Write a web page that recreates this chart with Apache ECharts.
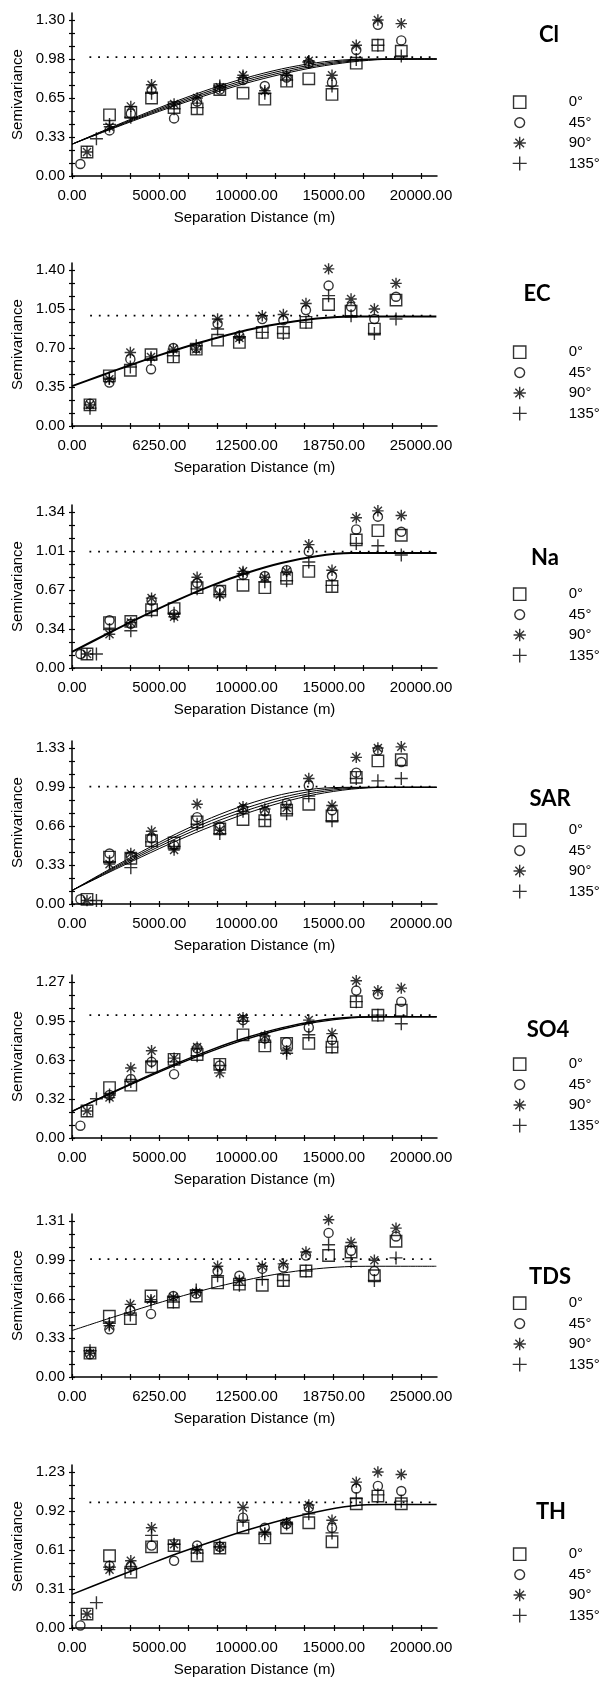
<!DOCTYPE html>
<html>
<head>
<meta charset="utf-8">
<script src="https://cdn.jsdelivr.net/npm/echarts@6/dist/echarts.min.js"></script>
<style>
  html, body { margin: 0; padding: 0; background: #fff; }
  #chart { width: 604px; height: 1686px; }
</style>
</head>
<body>
<div id="chart"></div>
<script>
// panels and directions
const panelNames = ['Cl', 'EC', 'Na', 'SAR', 'SO4', 'TDS', 'TH'];
const directions = ['0°', '45°', '90°', '135°'];

// axis extents (last labelled tick) and tick labels
const xTop = [20000, 25000, 20000, 20000, 20000, 25000, 20000];
const yTop = [1.30, 1.40, 1.34, 1.33, 1.27, 1.31, 1.23];
const xLabels20 = ['0.00', '5000.00', '10000.00', '15000.00', '20000.00'];
const xLabels25 = ['0.00', '6250.00', '12500.00', '18750.00', '25000.00'];
const yTickLabels = [
  ['0.00', '0.33', '0.65', '0.98', '1.30'],
  ['0.00', '0.35', '0.70', '1.05', '1.40'],
  ['0.00', '0.34', '0.67', '1.01', '1.34'],
  ['0.00', '0.33', '0.66', '0.99', '1.33'],
  ['0.00', '0.32', '0.63', '0.95', '1.27'],
  ['0.00', '0.33', '0.66', '0.99', '1.31'],
  ['0.00', '0.31', '0.61', '0.92', '1.23']
];

// lag distances (m); first lag differs a little per direction
const lagDist20 = [860, 2150, 3370, 4560, 5850, 7170, 8470, 9800, 11050, 12300, 13570, 14900, 16290, 17530, 18870];
const firstLag20 = [860, 480, 860, 1400];
const lagDist25 = [1290, 2675, 4180, 5660, 7260, 8900, 10430, 11990, 13630, 15140, 16760, 18380, 19990, 21660, 23210];
const firstLag25 = [1290, 1290, 1290, 1290];

// experimental semivariances: 0°, 45°, 90°, 135°
const cl0   = [0.20, 0.51, 0.53, 0.65, 0.57, 0.56, 0.72, 0.69, 0.64, 0.79, 0.81, 0.68, 0.94, 1.09, 1.04];
const cl45  = [0.10, 0.38, 0.52, 0.72, 0.48, 0.62, 0.72, 0.80, 0.75, 0.82, 0.94, 0.78, 1.05, 1.26, 1.13];
const cl90  = [0.20, 0.41, 0.58, 0.76, 0.60, 0.65, 0.74, 0.84, 0.71, 0.84, 0.96, 0.84, 1.09, 1.30, 1.27];
const cl135 = [0.31, 0.43, 0.49, 0.69, 0.56, 0.57, 0.75, 0.82, 0.69, 0.80, 0.95, 0.75, 0.97, 1.09, 1.00];

const ec0   = [0.19, 0.45, 0.50, 0.64, 0.62, 0.69, 0.77, 0.75, 0.84, 0.84, 0.93, 1.09, 1.03, 0.87, 1.13];
const ec45  = [0.20, 0.39, 0.60, 0.51, 0.70, 0.70, 0.92, 0.81, 0.96, 0.95, 1.04, 1.26, 1.07, 0.96, 1.16];
const ec90  = [0.19, 0.42, 0.66, 0.62, 0.69, 0.69, 0.96, 0.79, 0.99, 1.00, 1.10, 1.41, 1.14, 1.05, 1.28];
const ec135 = [0.16, 0.43, 0.53, 0.60, 0.63, 0.72, 0.87, 0.80, 0.84, 0.83, 0.93, 1.17, 0.99, 0.83, 0.96];

const na0   = [0.12, 0.39, 0.40, 0.50, 0.51, 0.69, 0.66, 0.71, 0.69, 0.77, 0.83, 0.70, 1.10, 1.18, 1.14];
const na45  = [0.12, 0.41, 0.38, 0.58, 0.46, 0.73, 0.67, 0.80, 0.79, 0.84, 1.00, 0.79, 1.19, 1.30, 1.17];
const na90  = [0.12, 0.29, 0.39, 0.60, 0.44, 0.78, 0.63, 0.83, 0.78, 0.83, 1.06, 0.84, 1.29, 1.35, 1.31];
const na135 = [0.12, 0.33, 0.32, 0.49, 0.47, 0.68, 0.63, 0.81, 0.74, 0.75, 0.91, 0.71, 1.07, 1.05, 0.97];

const sar0   = [0.04, 0.40, 0.39, 0.54, 0.52, 0.70, 0.64, 0.72, 0.71, 0.80, 0.85, 0.75, 1.08, 1.22, 1.23];
const sar45  = [0.04, 0.43, 0.41, 0.56, 0.50, 0.74, 0.66, 0.81, 0.79, 0.86, 1.01, 0.80, 1.12, 1.31, 1.21];
const sar90  = [0.03, 0.34, 0.43, 0.62, 0.46, 0.85, 0.63, 0.83, 0.81, 0.82, 1.07, 0.84, 1.25, 1.33, 1.34];
const sar135 = [0.03, 0.36, 0.31, 0.53, 0.49, 0.68, 0.60, 0.79, 0.72, 0.77, 0.92, 0.71, 1.07, 1.05, 1.07];

const so40   = [0.22, 0.41, 0.43, 0.58, 0.64, 0.68, 0.60, 0.84, 0.75, 0.77, 0.77, 0.74, 1.11, 1.00, 1.04];
const so445  = [0.10, 0.35, 0.48, 0.62, 0.52, 0.73, 0.59, 0.96, 0.81, 0.78, 0.90, 0.80, 1.20, 1.17, 1.11];
const so490  = [0.22, 0.33, 0.57, 0.71, 0.65, 0.74, 0.53, 0.98, 0.83, 0.71, 0.96, 0.85, 1.28, 1.20, 1.22];
const so4135 = [0.32, 0.35, 0.46, 0.62, 0.62, 0.67, 0.59, 0.95, 0.78, 0.69, 0.84, 0.74, 1.11, 1.00, 0.93];

const tds0   = [0.20, 0.51, 0.49, 0.68, 0.63, 0.68, 0.79, 0.78, 0.77, 0.81, 0.89, 1.02, 1.05, 0.85, 1.14];
const tds45  = [0.19, 0.40, 0.56, 0.53, 0.68, 0.70, 0.89, 0.85, 0.91, 0.92, 1.02, 1.21, 1.06, 0.89, 1.18];
const tds90  = [0.20, 0.43, 0.61, 0.65, 0.67, 0.71, 0.93, 0.81, 0.93, 0.95, 1.05, 1.32, 1.13, 0.98, 1.25];
const tds135 = [0.22, 0.45, 0.52, 0.63, 0.63, 0.73, 0.85, 0.77, 0.82, 0.81, 0.89, 1.11, 0.97, 0.81, 1.00];

const th0   = [0.11, 0.57, 0.44, 0.64, 0.65, 0.57, 0.63, 0.79, 0.71, 0.79, 0.83, 0.68, 0.98, 1.04, 0.98];
const th45  = [0.02, 0.49, 0.49, 0.65, 0.53, 0.65, 0.64, 0.87, 0.79, 0.82, 0.95, 0.79, 1.10, 1.12, 1.08];
const th90  = [0.11, 0.46, 0.53, 0.79, 0.66, 0.62, 0.64, 0.95, 0.75, 0.83, 0.97, 0.85, 1.15, 1.23, 1.21];
const th135 = [0.20, 0.48, 0.47, 0.73, 0.66, 0.59, 0.64, 0.85, 0.74, 0.82, 0.90, 0.75, 1.02, 1.05, 1.00];

// fitted model curves, read at these distances
const modelDist20 = [0, 2000, 4000, 6000, 8000, 10000, 12000, 14000, 16000, 18000, 20900];
const modelDist25 = [0, 2000, 4000, 6000, 8000, 10000, 12000, 14000, 16000, 18000, 20000, 22000, 24000, 26100];

const clModelA = [0.265, 0.390, 0.511, 0.625, 0.729, 0.819, 0.892, 0.944, 0.971, 0.975, 0.975];
const clModelB = [0.265, 0.386, 0.502, 0.613, 0.714, 0.803, 0.877, 0.931, 0.964, 0.975, 0.975];
const clModelC = [0.265, 0.381, 0.494, 0.601, 0.700, 0.788, 0.862, 0.919, 0.957, 0.974, 0.975];
const clModelD = [0.265, 0.377, 0.486, 0.590, 0.687, 0.774, 0.848, 0.908, 0.950, 0.972, 0.975];
const ecModel  = [0.358, 0.449, 0.539, 0.625, 0.705, 0.779, 0.844, 0.899, 0.941, 0.970, 0.982, 0.983, 0.983, 0.983];
const naModel  = [0.138, 0.292, 0.441, 0.581, 0.708, 0.816, 0.902, 0.960, 0.987, 0.988, 0.988];
const sarModelA = [0.115, 0.284, 0.448, 0.600, 0.736, 0.848, 0.933, 0.983, 0.995, 0.995, 0.995];
const sarModelB = [0.115, 0.276, 0.433, 0.580, 0.712, 0.820, 0.908, 0.967, 0.992, 0.995, 0.995];
const sarModelC = [0.115, 0.268, 0.418, 0.560, 0.688, 0.797, 0.887, 0.951, 0.986, 0.995, 0.995];
const sarModelD = [0.115, 0.261, 0.403, 0.539, 0.663, 0.773, 0.865, 0.935, 0.979, 0.995, 0.995];
const so4ModelA = [0.217, 0.352, 0.484, 0.608, 0.720, 0.818, 0.897, 0.953, 0.983, 0.987, 0.987];
const so4ModelB = [0.217, 0.348, 0.476, 0.598, 0.708, 0.805, 0.885, 0.943, 0.978, 0.987, 0.987];
const tdsModel = [0.390, 0.467, 0.542, 0.615, 0.684, 0.747, 0.802, 0.850, 0.888, 0.914, 0.928, 0.930, 0.930, 0.930];
const thModel  = [0.265, 0.375, 0.480, 0.585, 0.680, 0.770, 0.850, 0.915, 0.962, 0.973, 0.973];

// sample variance (dotted line)
const sillValue = [0.99, 0.99, 1.00, 1.00, 1.00, 0.99, 0.99];

const panelPoints = [
  [cl0, cl45, cl90, cl135],
  [ec0, ec45, ec90, ec135],
  [na0, na45, na90, na135],
  [sar0, sar45, sar90, sar135],
  [so40, so445, so490, so4135],
  [tds0, tds45, tds90, tds135],
  [th0, th45, th90, th135]
];
const panelModels = [
  [clModelA, clModelB, clModelC, clModelD],
  [ecModel],
  [naModel],
  [sarModelA, sarModelB, sarModelC, sarModelD],
  [so4ModelA, so4ModelB],
  [tdsModel],
  [thModel]
];

// ---- layout ----
const zeroY = [176, 426, 668, 904, 1138, 1377, 1628];
const titleX = [549, 537, 545, 550, 548, 550, 551];
const titleY = [35, 294, 558, 799, 1030, 1277, 1512];
const modelWidth = [1, 2, 2, 1, 1.4, 1, 1.5];
const GRID_LEFT = 72, GRID_W = 365, GRID_H = 163, LABEL_H = 156, LABEL_W = 349;
const FONT = '"Liberation Sans", Arial, sans-serif';

// symbols drawn inside a 10x10 box
const symbolPaths = [
  'path://M0 0M10 10M0.6 0.6L9.4 0.6L9.4 9.4L0.6 9.4Z',
  'path://M0 0M10 10M8.5 5A3.5 3.5 0 1 1 1.5 5A3.5 3.5 0 1 1 8.5 5Z',
  'path://M0 0M10 10M5 0.6L5 9.4M0.6 5L9.4 5M1.9 1.9L8.1 8.1M8.1 1.9L1.9 8.1',
  'path://M0 0M10 10M5 0L5 10M0 5L10 5'
];
const markStyle = { color: 'rgba(0,0,0,0)', borderColor: '#000', borderWidth: 1.4 };

const grids = [], xAxes = [], yAxes = [], series = [], legends = [], graphics = [];

panelNames.forEach((name, p) => {
  const is25 = xTop[p] === 25000;
  const xMax = xTop[p] * GRID_W / LABEL_W;
  const yMax = yTop[p] * GRID_H / LABEL_H;
  const xLabels = is25 ? xLabels25 : xLabels20;
  const xMinorTicks = [], yMinorTicks = [], xMajor = [], yMajor = [];
  for (let k = 0; k <= 12; k++) {
    xMinorTicks.push(k * xTop[p] / 12);
    yMinorTicks.push(k * yTop[p] / 12);
  }
  for (let k = 0; k <= 4; k++) {
    xMajor.push(k * xTop[p] / 4);
    yMajor.push(k * yTop[p] / 4);
  }

  grids.push({
    left: GRID_LEFT, width: GRID_W, top: zeroY[p] - GRID_H, height: GRID_H,
    outerBoundsMode: 'none', containLabel: false
  });

  // main axes: line, outside ticks, labels, names
  xAxes.push({
    gridIndex: p, type: 'value', position: 'bottom', min: 0, max: xMax,
    axisLine: { onZero: false, lineStyle: { color: '#000', width: 1.5 } },
    axisTick: { show: true, length: 3, customValues: xMinorTicks, lineStyle: { color: '#000', width: 1.2 } },
    axisLabel: {
      customValues: xMajor, color: '#000', fontSize: 15, fontFamily: FONT, margin: 12,
      formatter: v => xLabels[Math.round(v / (xTop[p] / 4))]
    },
    splitLine: { show: false },
    name: 'Separation Distance (m)', nameLocation: 'middle', nameGap: 34,
    nameTextStyle: { color: '#000', fontSize: 15, fontFamily: FONT }
  });
  // second axis only for the inner half of the crossing ticks
  xAxes.push({
    gridIndex: p, type: 'value', position: 'bottom', min: 0, max: xMax,
    axisLine: { show: false, onZero: false },
    axisTick: { show: true, inside: true, length: 3, customValues: xMinorTicks, lineStyle: { color: '#000', width: 1.2 } },
    axisLabel: { show: false }, splitLine: { show: false }
  });
  yAxes.push({
    gridIndex: p, type: 'value', position: 'left', min: 0, max: yMax,
    axisLine: { show: true, onZero: false, lineStyle: { color: '#000', width: 1.5 } },
    axisTick: { show: true, length: 3, customValues: yMinorTicks, lineStyle: { color: '#000', width: 1.2 } },
    axisLabel: {
      customValues: yMajor, color: '#000', fontSize: 15, fontFamily: FONT, margin: 7,
      formatter: v => yTickLabels[p][Math.round(v / (yTop[p] / 4))]
    },
    splitLine: { show: false },
    name: 'Semivariance', nameLocation: 'middle', nameGap: 47,
    nameTextStyle: { color: '#000', fontSize: 15, fontFamily: FONT }
  });
  yAxes.push({
    gridIndex: p, type: 'value', position: 'left', min: 0, max: yMax,
    axisLine: { show: false, onZero: false },
    axisTick: { show: true, inside: true, length: 3, customValues: yMinorTicks, lineStyle: { color: '#000', width: 1.2 } },
    axisLabel: { show: false }, splitLine: { show: false }
  });

  const xi = 2 * p, yi = 2 * p;

  // dotted sill line
  series.push({
    name: 'sill ' + name, type: 'line', xAxisIndex: xi, yAxisIndex: yi,
    symbol: 'none', silent: true, z: 1,
    lineStyle: { color: '#000', width: 1.8, type: [1.8, 6.9] },
    data: [[is25 ? 1300 : 1000, sillValue[p]], [xMax, sillValue[p]]]
  });

  // model curves
  const mDist = is25 ? modelDist25 : modelDist20;
  panelModels[p].forEach((vals, m) => {
    series.push({
      name: 'model ' + name + ' ' + m, type: 'line', xAxisIndex: xi, yAxisIndex: yi,
      symbol: 'none', smooth: 0.3, silent: true, z: 2,
      lineStyle: { color: '#000', width: modelWidth[p] },
      data: vals.map((v, i) => [mDist[i], v])
    });
  });

  // experimental points
  const lags = is25 ? lagDist25 : lagDist20;
  const first = is25 ? firstLag25 : firstLag20;
  panelPoints[p].forEach((vals, d) => {
    series.push({
      name: directions[d], type: 'scatter', xAxisIndex: xi, yAxisIndex: yi,
      symbol: symbolPaths[d], symbolSize: 13, silent: true, z: 3,
      itemStyle: markStyle,
      data: vals.map((v, i) => [i === 0 ? first[d] : lags[i], v])
    });
  });

  legends.push({
    orient: 'vertical', left: 512, top: zeroY[p] - 81.5, padding: 0,
    itemWidth: 14, itemHeight: 14, itemGap: 5, selectedMode: false,
    textStyle: { color: '#000', fontSize: 15, fontFamily: FONT, padding: [0, 0, 0, 37] },
    data: directions.map((dname, d) => ({ name: dname, icon: symbolPaths[d], itemStyle: markStyle }))
  });

  graphics.push({
    type: 'text', x: titleX[p], y: titleY[p], silent: true,
    style: {
      text: name, fill: '#000', font: 'bold 22px Lato, "Open Sans", sans-serif',
      textAlign: 'center', textVerticalAlign: 'middle'
    }
  });
});

const chart = echarts.init(document.getElementById('chart'), null, { renderer: 'canvas' });
chart.setOption({
  animation: false,
  backgroundColor: '#fff',
  textStyle: { fontFamily: FONT },
  grid: grids,
  xAxis: xAxes,
  yAxis: yAxes,
  legend: legends,
  graphic: graphics,
  series: series
});
</script>
</body>
</html>
